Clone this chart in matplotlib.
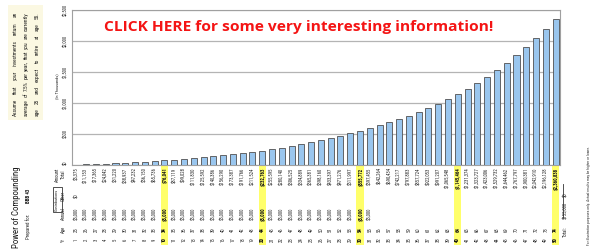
import matplotlib
matplotlib.use("Agg")
import matplotlib.pyplot as plt
from matplotlib.patches import Rectangle
from matplotlib.lines import Line2D
from matplotlib.transforms import blended_transform_factory

# ---- data -------------------------------------------------------------
years = list(range(1, 51))
ages = list(range(25, 75))
annual_contrib = [5000] * 31 + [None] * 19
other_contrib = [0] + [None] * 49
amount_total = [5375, 11153, 17365, 24042, 31220, 38937, 47232, 56150, 65736, 76041,
                87119, 99028, 111830, 125592, 140386, 156290, 173387, 191766, 211524, 232763,
                255595, 280140, 306525, 334889, 365381, 398160, 433397, 471276, 511997, 555772,
                597455, 642264, 690434, 742217, 797883, 857724, 922053, 991207, 1065548, 1145464,
                1231374, 1323727, 1423006, 1529732, 1644462, 1767797, 1900381, 2042910, 2196128, 2360838]
highlight_years = [10, 20, 30, 40, 50]
y_ticks = [0, 500, 1000, 1500, 2000, 2500]
y_tick_labels = ["$0", "$500", "$1,000", "$1,500", "$2,000", "$2,500"]
total_contrib = "$155,000"
total_other = "$0"

assumption_lines = [
    "Assume that your investments return an",
    "average of 7.5% per year, that you are currently",
    "age 25 and expect to retire at age 55.",
]
banner = "CLICK HERE for some very interesting information!"
disclaimer = "For illustration purposes only. Actual results may be higher or lower."

# ---- figure -----------------------------------------------------------
W, H = 600, 250
fig = plt.figure(figsize=(W / 100, H / 100), dpi=100)
fig.patch.set_facecolor("white")
renderer = fig.canvas.get_renderer()


def fx(px):
    return px / W


def fy(py):
    return 1 - py / H


FAM = ["Roboto Condensed", "Liberation Sans Narrow", "Liberation Sans", "DejaVu Sans"]
INK = "#2a2a2a"
SMALL = 3.4

ax = fig.add_axes([fx(72), fy(165), fx(560) - fx(72), fy(10) - fy(165)])
values_k = [v / 1000 for v in amount_total]
ax.bar(years, values_k, width=0.62, color="#9AC6EE", edgecolor="#505050",
       linewidth=0.6, zorder=3)
ax.set_xlim(0.55, 50.45)
ax.set_ylim(0, 2500)
ax.set_xticks([])
ax.set_yticks(y_ticks)
ax.set_yticklabels([])
ax.tick_params(axis="y", length=0)
ax.yaxis.grid(True, color="#b4b4b4", linewidth=0.9)
ax.set_axisbelow(True)
for s in ax.spines.values():
    s.set_color("#a0a0a0")
    s.set_linewidth(0.8)

# y tick labels, rotated with the page
ty = blended_transform_factory(fig.transFigure, ax.transData)
for v, lab in zip(y_ticks, y_tick_labels):
    fig.text(fx(66), v, lab, transform=ty, rotation=90, ha="center",
             va="bottom" if v == 0 else "center",
             fontsize=3.3, family=FAM, color=INK)
fig.text(fx(57), fy(86), "(In Thousands)", rotation=90, ha="center", va="center",
         fontsize=3.2, family=FAM, color=INK)

# ---- table under the bars --------------------------------------------
tx = blended_transform_factory(ax.transData, fig.transFigure)
for yr in highlight_years:
    fig.add_artist(Rectangle((yr - 0.36, fy(245)), 0.72, fy(166) - fy(245),
                             transform=tx, facecolor="#FFFF6A", edgecolor="none", zorder=0))

for i, yr in enumerate(years):
    w = "bold" if yr in highlight_years else "normal"
    kw = dict(transform=tx, rotation=90, ha="center", fontsize=SMALL, family=FAM,
              color="#111111" if w == "bold" else INK, fontweight=w)
    fig.text(yr, fy(167.5), f"${amount_total[i]:,}", va="top", **kw)
    if other_contrib[i] is not None:
        fig.text(yr, fy(196), f"${other_contrib[i]:,}", va="center", **kw)
    if annual_contrib[i] is not None:
        fig.text(yr, fy(214), f"${annual_contrib[i]:,}", va="center", **kw)
    fig.text(yr, fy(229.5), f"{ages[i]}", va="center", **kw)
    fig.text(yr, fy(240), f"{yr}", va="center", **kw)

# totals column
tkw = dict(transform=tx, rotation=90, ha="center", fontsize=SMALL, family=FAM, color=INK)
fig.add_artist(Line2D([50.72, 50.72], [fy(184), fy(218)], transform=tx,
                      color="#333333", linewidth=0.6))
fig.text(51.05, fy(195), total_other, va="center", **tkw)
fig.text(51.05, fy(210), total_contrib, va="center", **tkw)
fig.text(51.05, fy(232), "Total:", va="center", **tkw)

# column headers
hkw = dict(rotation=90, ha="center", va="center", fontsize=SMALL, family=FAM, color=INK)
fig.text(fx(57.5), fy(175), "Amount", **hkw)
fig.text(fx(63.5), fy(174), "Total", **hkw)
fig.text(fx(63.5), fy(196), "Other", **hkw)
fig.text(fx(63.5), fy(214), "Annual", **hkw)
fig.text(fx(63.5), fy(229.5), "Age", **hkw)
fig.text(fx(63.5), fy(240), "Yr", **hkw)
fig.add_artist(Rectangle((fx(52.5), fy(212)), fx(9), fy(187) - fy(212),
                         transform=fig.transFigure, facecolor="none",
                         edgecolor="#333333", linewidth=0.6))
fig.text(fx(57), fy(199.5), "Contributions", rotation=90, ha="center", va="center",
         fontsize=3.1, family=FAM, color=INK)

# title block
fig.text(fx(17), fy(207), "Power of Compounding", rotation=90, ha="center", va="center",
         fontsize=6.4, family=FAM, color="#1a1a1a")
fig.text(fx(28), fy(226), "Prepared for:", rotation=90, ha="center", va="center",
         fontsize=3.5, family=FAM, color=INK)
fig.text(fx(28), fy(196), "BBB 43", rotation=90, ha="center", va="center",
         fontsize=3.5, family=FAM, color="#1a1a1a", fontweight="bold")

# assumptions note, justified between two edges
fig.add_artist(Rectangle((fx(8), fy(120)), fx(35), fy(5) - fy(120),
                         transform=fig.transFigure, facecolor="#FBF8E2",
                         edgecolor="none", zorder=0))


def justified(words, x_px, bottom_px, top_px, size):
    items = [fig.text(0, 0, wd, rotation=90, ha="center", va="bottom", fontsize=size,
                      family=FAM, color="#1e1e1e") for wd in words]
    lens = [t.get_window_extent(renderer).height for t in items]
    gap = ((bottom_px - top_px) - sum(lens)) / max(len(items) - 1, 1)
    y = bottom_px
    for t, L in zip(items, lens):
        t.set_position((fx(x_px), fy(y)))
        y -= L + gap


for line, xp in zip(assumption_lines, [15, 26, 37]):
    justified(line.split(), xp, 116, 12, 3.9)

# disclaimer along the right edge
fig.text(fx(589), fy(245), disclaimer, rotation=90, ha="center", va="bottom",
         fontsize=2.6, family=FAM, color=INK)

# banner, sized to span its band
b = fig.text(fx(299), fy(27), banner, ha="center", va="center", fontsize=10,
             family=["Open Sans", "DejaVu Sans"], fontweight="bold", color="#F41414")
bw = b.get_window_extent(renderer).width
b.set_fontsize(10 * 388 / bw)

fig.savefig("out.png", dpi=100, facecolor="white")
